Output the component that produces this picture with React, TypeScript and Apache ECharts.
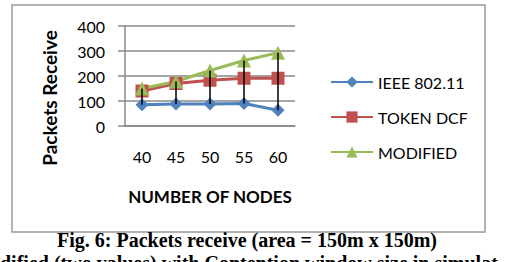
import React, { useEffect, useRef } from "react";
import * as echarts from "echarts";

const categories = ["40", "45", "50", "55", "60"];
const ieee = [85, 88, 88, 90, 63];
const token = [140, 170, 183, 191, 191];
const modified = [150, 178, 222, 262, 293];
const yTicks = [0, 100, 200, 300, 400];
const yTitle = "Packets Receive";
const xTitle = "NUMBER OF NODES";
const caption = "Fig. 6: Packets receive (area = 150m x 150m)";
const caption2 = "dified (two values) with Contention window size in simulat";

export default function App() {
  const ref = useRef<HTMLDivElement>(null);
  useEffect(() => {
    const chart = echarts.init(ref.current!, null, { renderer: "svg" });
    const font = "Lato";
    chart.setOption({
      animation: false,
      backgroundColor: "#fff",
      grid: { left: 125, right: 217, top: 26, bottom: 136 },
      legend: {
        orient: "vertical",
        left: 325,
        top: 69,
        itemWidth: 42,
        itemHeight: 14,
        itemGap: 19,
        textStyle: { fontFamily: font, fontSize: 16, color: "#000" },
        data: ["IEEE 802.11", "TOKEN DCF", "MODIFIED"],
      },
      xAxis: {
        type: "category",
        data: categories,
        name: xTitle,
        nameLocation: "middle",
        nameGap: 62,
        nameTextStyle: { fontFamily: font, fontSize: 17, fontWeight: "bold", color: "#000" },
        axisLine: { lineStyle: { color: "#888", width: 1.5 } },
        axisTick: { show: false },
        axisLabel: { fontFamily: font, fontSize: 16, color: "#000", margin: 22 },
      },
      yAxis: {
        type: "value",
        min: yTicks[0],
        max: yTicks[yTicks.length - 1],
        interval: 100,
        axisLine: { show: true, lineStyle: { color: "#888", width: 1.5 } },
        axisTick: { show: true, length: 7, lineStyle: { color: "#888", width: 1.5 } },
        splitLine: { lineStyle: { color: "#888", width: 1.5 } },
        axisLabel: { fontFamily: font, fontSize: 16, color: "#000", margin: 20 },
      },
      series: [
        {
          name: "IEEE 802.11",
          type: "line",
          data: ieee,
          symbol: "diamond",
          symbolSize: 13,
          color: "#4F81BD",
          lineStyle: { width: 3 },
        },
        {
          name: "TOKEN DCF",
          type: "line",
          data: token,
          symbol: "rect",
          symbolSize: 13,
          color: "#C0504D",
          lineStyle: { width: 3 },
        },
        {
          name: "MODIFIED",
          type: "line",
          data: modified,
          symbol: "triangle",
          symbolSize: 14,
          color: "#9BBB59",
          lineStyle: { width: 3 },
        },
        {
          type: "custom",
          z: 10,
          silent: true,
          data: categories.map((c, i) => [i, ieee[i], modified[i]]),
          renderItem: (params: any, api: any) => {
            const lo = api.coord([api.value(0), api.value(1)]);
            const hi = api.coord([api.value(0), api.value(2)]);
            return {
              type: "line",
              shape: { x1: lo[0], y1: lo[1], x2: hi[0], y2: hi[1] },
              style: { stroke: "#000", lineWidth: 1.5 },
            };
          },
        },
      ],
      graphic: [
        {
          type: "rect",
          shape: { x: 12, y: 5, width: 473, height: 227 },
          style: { fill: "none", stroke: "#999", lineWidth: 1.5 },
          silent: true,
        },
        {
          type: "text",
          x: 49,
          y: 98,
          rotation: Math.PI / 2,
          style: {
            text: yTitle,
            fontFamily: font,
            fontWeight: "bold",
            fontSize: 19,
            fill: "#000",
            align: "center",
            verticalAlign: "middle",
          },
        },
        {
          type: "text",
          x: 247,
          y: 240,
          style: {
            text: caption,
            fontFamily: "Liberation Serif",
            fontWeight: "bold",
            fontSize: 20,
            fill: "#000",
            align: "center",
            verticalAlign: "middle",
          },
        },
        {
          type: "text",
          x: 0,
          y: 253,
          style: {
            text: caption2,
            fontFamily: "Liberation Serif",
            fontWeight: "bold",
            fontSize: 20,
            fill: "#000",
            align: "left",
            verticalAlign: "top",
          },
        },
      ],
    });
    return () => chart.dispose();
  }, []);
  return (
    <div
      ref={ref}
      style={{ position: "fixed", left: 0, top: 0, width: 512, height: 262 }}
    />
  );
}
